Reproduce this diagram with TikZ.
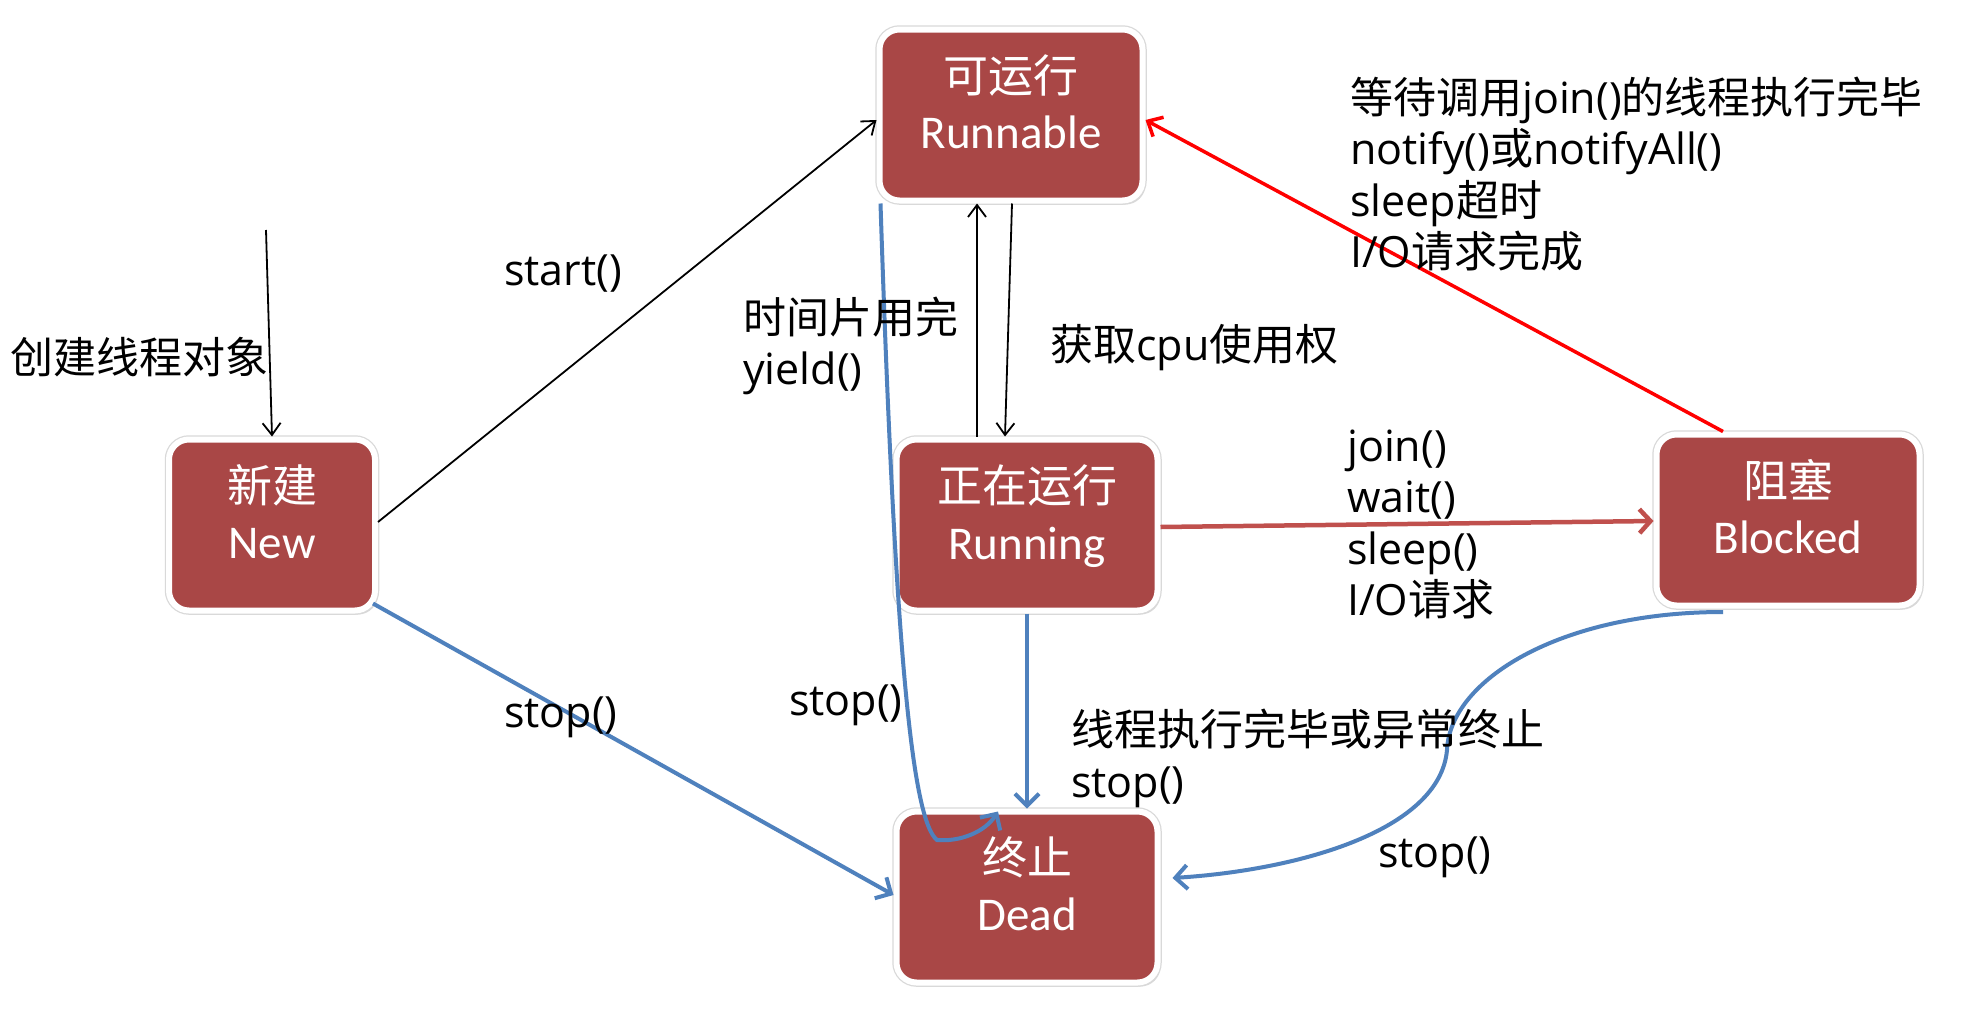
\documentclass[tikz,border=0pt]{standalone}
\usepackage{fontspec}
\setmainfont{Open Sans}
\newfontfamily\cjk{Noto Sans CJK SC}
\newfontfamily\calfont{Carlito}
\usetikzlibrary{arrows.meta,shadows,calc}
\definecolor{nodered}{RGB}{169,71,70}
\definecolor{arrblue}{RGB}{79,129,189}
\definecolor{arrbrown}{RGB}{192,80,77}
\newcommand\zh[1]{{\cjk #1}}
\newcommand\lsk{\baselineskip=51.5pt\lineskiplimit=-100pt\relax}
\tikzset{
  statebox/.style={rectangle, rounded corners=20pt, fill=nodered, draw=white, line width=6pt,
    minimum width=263pt, minimum height=171pt,
    drop shadow={opacity=0.3, shadow xshift=3pt, shadow yshift=-4pt},
    preaction={draw=black!15, line width=8.5pt}},
  stzh/.style={inner sep=0pt, text=white, font=\cjk\fontsize{45}{54}\selectfont, anchor=center},
  sten/.style={inner sep=0pt, text=white, font=\calfont\fontsize{47}{56}\selectfont, anchor=base},
  lbl/.style={inner sep=0pt, text=black, font=\fontsize{43}{51.5}\selectfont, anchor=base west},
  blackarr/.style={draw=black, line width=1.8pt, -{Straight Barb[length=12pt,width=18pt,line width=1.8pt]}},
  bluearr/.style={draw=arrblue, line width=4pt, -{Straight Barb[length=12pt,width=24pt,line width=4pt]}},
  brownarr/.style={draw=arrbrown, line width=4.5pt, -{Straight Barb[length=11pt,width=24pt,line width=4.5pt]}},
  redarr/.style={draw=red, line width=3.5pt, -{Straight Barb[length=12pt,width=22pt,line width=3.5pt]}},
}
\begin{document}
\begin{tikzpicture}[x=1pt,y=-1pt]
\useasboundingbox (0,0) rectangle (1974,1010);
\fill[white] (0,0) rectangle (1974,1010);

% states
\node[statebox, minimum width=206pt] (new) at (272,525) {};
\node[statebox] (run) at (1011,115) {};
\node[statebox, minimum width=261pt] (running) at (1027,525) {};
\node[statebox] (blocked) at (1788,520) {};
\node[statebox, minimum width=261pt] (dead) at (1027,897) {};

\node[stzh] (new-zh) at ([yshift=40pt]new.center) {新建};
\node[sten] (new-en) at ([yshift=-33pt]new.center) {New};
\node[stzh] (run-zh) at ([yshift=40pt]run.center) {可运行};
\node[sten] (run-en) at ([yshift=-33pt]run.center) {Runnable};
\node[stzh] (running-zh) at ([yshift=40pt]running.center) {正在运行};
\node[sten] (running-en) at ([yshift=-34pt]running.center) {Running};
\node[stzh] (blocked-zh) at ([yshift=40pt]blocked.center) {阻塞};
\node[sten] (blocked-en) at ([yshift=-33pt]blocked.center) {Blocked};
\node[stzh] (dead-zh) at ([yshift=40pt]dead.center) {终止};
\node[sten] (dead-en) at ([yshift=-33pt]dead.center) {Dead};

% connectors
\coordinate (create) at (266,230);
\draw[blackarr] (create) -- (new.north);
\draw[blackarr] ([yshift=3pt]new.east) -- ([yshift=-5pt]run.west);
\draw[blackarr] ([xshift=-50pt]running.north) -- ([xshift=-34pt]run.south);
\draw[blackarr] ([xshift=1pt]run.south) -- ([xshift=-22pt]running.north);
\draw[brownarr] ([yshift=-2pt]running.east) -- ([yshift=-1pt]blocked.west);
\draw[redarr] ([xshift=-65pt]blocked.north) -- ([yshift=-5pt]run.east);
\draw[bluearr] ([xshift=-5pt,yshift=10pt]new.south east) -- ([yshift=2pt]dead.west);
\draw[bluearr] (running.south) -- (dead.north);
\draw[bluearr] ([xshift=4pt]run.south west) .. controls (895,650) and (912,820) .. (937,840)
   .. controls (960,842) and (985,832) .. ([xshift=-29pt,yshift=-3pt]dead.north);
\draw[bluearr] ([xshift=-65pt,yshift=-3.5pt]blocked.south) .. controls (1560,612) and (1450,680) .. (1447,750)
   .. controls (1440,830) and (1300,870) .. ([xshift=12pt,yshift=19pt]dead.east);

% labels
\node[lbl] (l-create) at (10,373) {\zh{创建线程对象}};
\node[lbl] (l-start) at (504,285) {start()};
\node[lbl] (l-yield) at (743,333) {\vtop{\lsk\hbox{\zh{时间片用完}}\hbox{yield()}}};
\node[lbl] (l-cpu) at (1050,360) {\zh{获取}cpu\zh{使用权}};
\node[lbl] (l-wake) at (1350,113) {\vtop{\lsk
  \hbox{\zh{等待调用}join()\zh{的线程执行完毕}}
  \hbox{notify()\zh{或}notifyAll()}
  \hbox{sleep\zh{超时}}
  \hbox{I/O\zh{请求完成}}}};
\node[lbl] (l-block) at (1347,461) {\vtop{\lsk
  \hbox{join()}
  \hbox{wait()}
  \hbox{sleep()}
  \hbox{I/O\zh{请求}}}};
\node[lbl] (l-stop1) at (504,727) {stop()};
\node[lbl] (l-stop2) at (789,715) {stop()};
\node[lbl] (l-end) at (1071,745) {\vtop{\baselineskip=52pt\lineskiplimit=-100pt\relax
  \hbox{\zh{线程执行完毕或异常终止}}
  \hbox{stop()}}};
\node[lbl] (l-stop3) at (1378,867) {stop()};
\end{tikzpicture}
\end{document}
